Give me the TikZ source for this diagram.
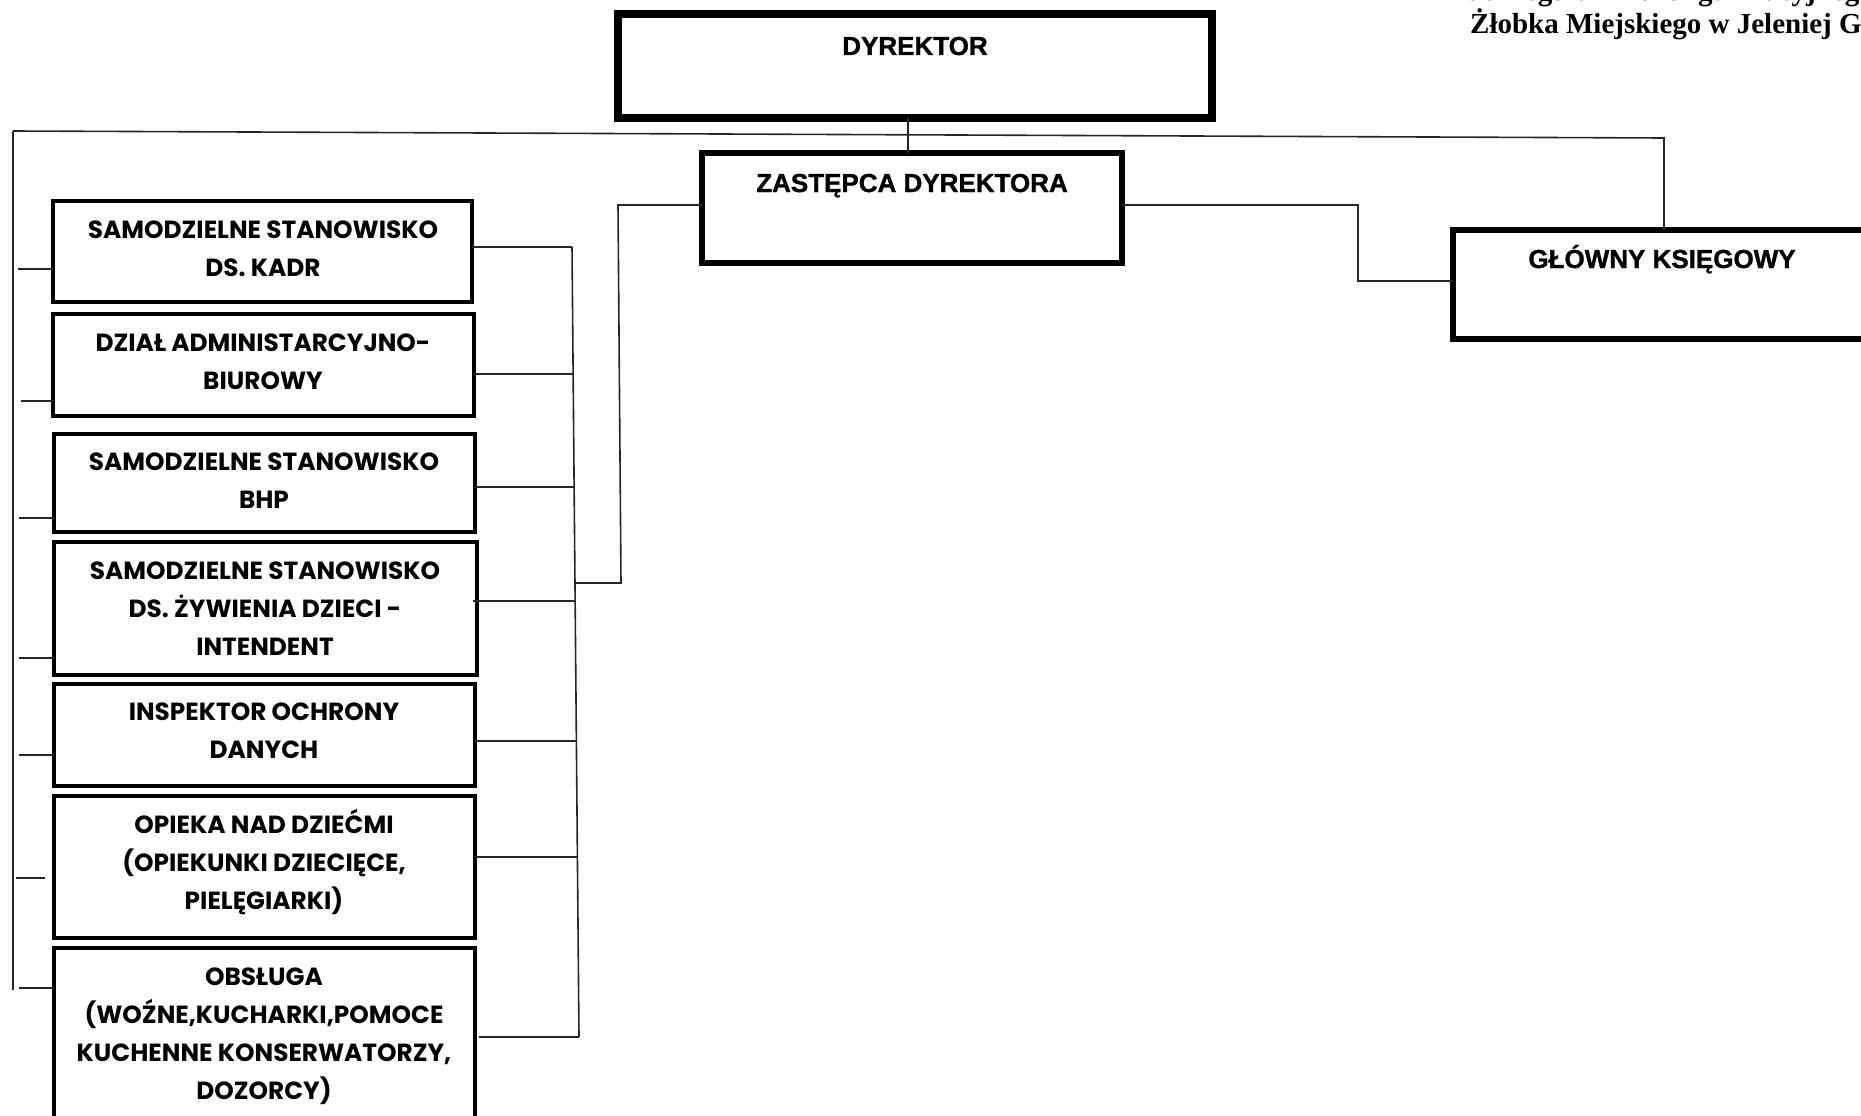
\documentclass[tikz,border=0pt]{standalone}
\usepackage{fontspec}
\setmainfont{Poppins}
\newfontfamily\timesfont{Liberation Serif}
\newfontfamily\arialfont{Liberation Sans Bold}[FakeBold=1.2]
\newcommand\bxt[1]{\parbox[t]{420pt}{\centering #1}}
\begin{document}
\begin{tikzpicture}[x=1pt,y=-1pt,
  orgbox/.style={draw, inner sep=0pt, outer sep=0pt, anchor=north west, line width=4.5pt},
  lbl/.style={font=\fontsize{24.8}{38}\selectfont\bfseries, anchor=base, inner sep=0pt, outer sep=0pt},
  toplbl/.style={font=\arialfont\fontsize{26}{30}\selectfont, anchor=base, inner sep=0pt, outer sep=0pt},
  conn/.style={line width=1.6pt, draw=black!85},
  hdr/.style={font=\timesfont\bfseries\fontsize{29}{33}\selectfont, anchor=base west, inner sep=0pt}]
\useasboundingbox (0,0) rectangle (1861,1116);

% header text (cut by the page, as in the original)
\node[hdr] (hdr1) at (1466,1) {do Regulaminu Organizacyjnego};
\node[hdr] (hdr2) at (1470,33.5) {Żłobka Miejskiego w Jeleniej G};

% top boxes
\node[orgbox, line width=8pt, minimum width=594pt, minimum height=104pt] (dyr) at (618,14) {};
\node[toplbl] (dyrT) at (915,55) {DYREKTOR};
\node[orgbox, line width=6pt, minimum width=420pt, minimum height=110pt] (zast) at (702,153) {};
\node[toplbl] (zastT) at (912,192) {ZASTĘPCA DYREKTORA};
\node[orgbox, line width=6pt, minimum width=421pt, minimum height=109pt] (glow) at (1453,230) {};
\node[toplbl] (glowT) at (1662,268) {GŁÓWNY KSIĘGOWY};

% left column boxes
\node[orgbox, minimum width=419pt, minimum height=101pt] (kadr) at (53,201) {};
\node[lbl] (kadrT) at (263,238.4) {\bxt{SAMODZIELNE STANOWISKO\\DS. KADR}};
\node[orgbox, minimum width=421pt, minimum height=102pt] (adm) at (53,314) {};
\node[lbl] (admT) at (263,351.4) {\bxt{DZIAŁ ADMINISTARCYJNO-\\BIUROWY}};
\node[orgbox, minimum width=421pt, minimum height=98pt] (bhp) at (54,434) {};
\node[lbl] (bhpT) at (264,470.4) {\bxt{SAMODZIELNE STANOWISKO\\BHP}};
\node[orgbox, minimum width=423pt, minimum height=133pt] (zyw) at (54,542) {};
\node[lbl] (zywT) at (265,579.4) {\bxt{SAMODZIELNE STANOWISKO\\DS. ŻYWIENIA DZIECI -\\INTENDENT}};
\node[orgbox, minimum width=421pt, minimum height=102pt] (iod) at (54,684) {};
\node[lbl] (iodT) at (264,720.4) {\bxt{INSPEKTOR OCHRONY\\DANYCH}};
\node[orgbox, minimum width=421pt, minimum height=142pt] (opi) at (54,796) {};
\node[lbl] (opiT) at (264,833.4) {\bxt{OPIEKA NAD DZIEĆMI\\(OPIEKUNKI DZIECIĘCE,\\PIELĘGIARKI)}};
\node[orgbox, minimum width=421pt, minimum height=190pt] (obs) at (54,948) {};
\node[lbl] (obsT) at (264,985.4) {\bxt{OBSŁUGA\\(WOŹNE,KUCHARKI,POMOCE\\KUCHENNE KONSERWATORZY,\\DOZORCY)}};

% coordinates for the buses
\coordinate (busL) at (13,131);
\coordinate (busLB) at (13,990);
\coordinate (busR) at (1664,138);
\coordinate (vDZ) at (908,0);
\coordinate (rbT) at (572,247);
\coordinate (rbB) at (579,1037);
\coordinate (zl1) at (618,205);
\coordinate (zl2) at (621,583);
\coordinate (zl3) at (576,583);
\coordinate (zr1) at (1358,205);
\coordinate (zr2) at (1358,281);

% director -> deputy
\draw[conn] (dyr.south -| vDZ) -- (zast.north -| vDZ);
% long bus
\draw[conn] (busL) -- (busR) -- (busR |- glow.north);
\draw[conn] (busL) -- (busLB);
% deputy -> chief accountant
\draw[conn] (zast.east |- zr1) -- (zr1) -- (zr2) -- (glow.west |- zr2);
% deputy -> right bus of left column
\draw[conn] (zast.west |- zl1) -- (zl1) -- (zl2) -- (zl3);
\draw[conn] (rbT) -- (rbB);

% left stubs
\coordinate (sl1) at (18,269);
\coordinate (sl2) at (21,401);
\coordinate (sl3) at (19,518);
\coordinate (sl4) at (19,658);
\coordinate (sl5) at (19,755);
\coordinate (sl6a) at (16,878);
\coordinate (sl6b) at (45,878);
\coordinate (sl7) at (19,988);
\draw[conn] (sl1) -- (sl1 -| kadr.west);
\draw[conn] (sl2) -- (sl2 -| adm.west);
\draw[conn] (sl3) -- (sl3 -| bhp.west);
\draw[conn] (sl4) -- (sl4 -| zyw.west);
\draw[conn] (sl5) -- (sl5 -| iod.west);
\draw[conn] (sl6a) -- (sl6b);
\draw[conn] (sl7) -- (sl7 -| obs.west);

% right stubs
\coordinate (sr1) at (572,247);
\coordinate (sr2) at (573,374);
\coordinate (sr3) at (574,487);
\coordinate (sr4) at (575,601);
\coordinate (sr5) at (576,741);
\coordinate (sr6) at (577,857);
\coordinate (sr7) at (579,1037);
\draw[conn] (kadr.east |- sr1) -- (sr1);
\draw[conn] (adm.east |- sr2) -- (sr2);
\draw[conn] (bhp.east |- sr3) -- (sr3);
\draw[conn] ([xshift=-4pt]zyw.east |- sr4) -- (sr4);
\draw[conn] (iod.east |- sr5) -- (sr5);
\draw[conn] (opi.east |- sr6) -- (sr6);
\draw[conn] ([xshift=4pt]obs.east |- sr7) -- (sr7);
\end{tikzpicture}
\end{document}
